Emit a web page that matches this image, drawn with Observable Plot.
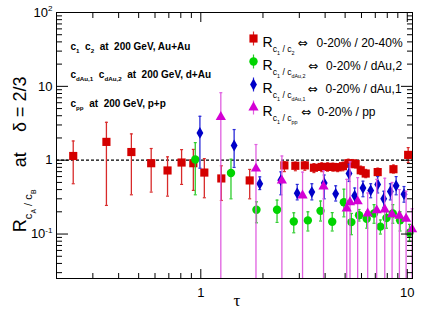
<!DOCTYPE html>
<html><head><meta charset="utf-8">
<script src="https://cdn.jsdelivr.net/npm/d3@7"></script>
<script src="https://cdn.jsdelivr.net/npm/@observablehq/plot@0.6"></script>
<style>
body{margin:0;background:#fff}
svg{font-family:"Liberation Sans",Arial,Helvetica,sans-serif}
</style>
</head><body><div id="chart"></div>
<script>
// ---- data ----
const tauRed = [0.241,0.349,0.461,0.575,0.69,0.807,0.92,1.04,1.257,1.725,2.54,2.87,3.19,3.53,3.85,4.11,4.36,4.6,4.88,5.18,5.44,5.62,5.95,6.29,7.19,8.57,10.1];
const valRed = [1.14,1.77,1.29,0.91,0.726,0.93,0.91,0.68,0.566,0.532,0.85,0.84,0.85,0.79,0.81,0.81,0.81,0.80,0.83,0.91,0.90,0.89,0.73,0.66,0.69,0.755,1.18];
const hiRed  = [1.82,3.26,2.27,1.44,1.11,1.39,1.40,1.05,0.84,0.75,0.95,0.94,0.95,0.90,0.92,0.92,0.91,0.90,0.94,1.03,1.02,1.00,0.83,0.75,0.78,0.86,1.48];
const loRed  = [0.48,0.244,0.34,0.37,0.326,0.47,0.39,0.31,0.285,0.30,0.70,0.72,0.73,0.68,0.70,0.71,0.71,0.70,0.72,0.80,0.79,0.78,0.64,0.58,0.61,0.67,0.93];

const tauGreen = [0.94,1.40,1.86,2.34,2.82,3.30,3.80,4.33,4.93,5.36,5.84,6.36,6.9,7.41,7.93,8.51,9.23,10.25];
const valGreen = [1.02,0.67,0.213,0.213,0.148,0.153,0.206,0.147,0.27,0.145,0.18,0.161,0.19,0.126,0.165,0.19,0.154,0.104];
const hiGreen  = [1.73,1.03,0.273,0.288,0.194,0.20,0.28,0.195,0.405,0.19,0.215,0.20,0.25,0.155,0.21,0.25,0.20,0.135];
const loGreen  = [0.34,0.30,0.142,0.144,0.104,0.11,0.15,0.11,0.171,0.098,0.15,0.12,0.14,0.10,0.12,0.14,0.11,0.08];

const tauBlue = [0.99,1.45,1.93,2.44,2.93,3.45,3.96,4.5,5.22,5.56,6.1,6.65,7.19,7.69,8.28,8.83,9.64];
const valBlue = [2.34,1.58,0.48,0.537,0.358,0.37,0.49,0.35,0.66,0.33,0.42,0.39,0.47,0.30,0.377,0.45,0.347];
const hiBlue  = [3.93,2.6,0.595,0.695,0.47,0.48,0.63,0.45,0.88,0.42,0.52,0.48,0.60,0.38,0.48,0.60,0.44];
const loBlue  = [0.78,0.80,0.40,0.34,0.29,0.29,0.30,0.28,0.515,0.26,0.32,0.31,0.36,0.23,0.29,0.34,0.27];

const tauMag = [1.25,1.85,2.47,3.11,3.93,5.09,5.28,5.75,6.43,7.11,7.78,8.44,9.16,9.87,10.55];
const valMag = [3.85,0.77,0.53,0.333,0.44,0.222,0.27,0.277,0.19,0.209,0.215,0.185,0.177,0.161,0.116];
const hiMag  = [8.2,1.63,1.14,0.69,0.72,0.55,0.95,0.58,0.36,0.55,0.57,0.50,0.40,0.38,0.22];
const loMag  = [0.001,0.001,0.001,0.001,0.001,0.001,0.001,0.001,0.001,0.001,0.001,0.001,0.001,0.001,0.001];

const legendRatios = [
  "R_{c_{1} / c_{2}}",
  "R_{c_{1} / c_{dAu,2}}",
  "R_{c_{1} / c_{dAu,1}}",
  "R_{c_{1} / c_{pp}}"
];
const legendArrow = "\u21D4";
const legendDescs = [
  "0-20% / 20-40%",
  "0-20% / dAu,2",
  "0-20% / dAu,1",
  "0-20% / pp"
];
const infoLabels = [
  "c_{1}  c_{2}  at  200 GeV, Au+Au",
  "c_{dAu,1}  c_{dAu,2}  at  200 GeV, d+Au",
  "c_{pp}  at  200 GeV, p+p"
];
const yTickLabels = {100:"10^{2}", 10:"10", 1:"1", 0.1:"10^{-1}"};
const xTickLabels = {1:"1", 10:"10"};
const yTitleParts = ["R_{c_{A} / c_{B}}", "at", "\u03B4 = 2/3"];
const xTitle = "\u03C4";

// ---- table ----
const mk = (t,v,h,l) => t.map((d,i)=>({t:d, v:v[i], hi:h[i], lo:l[i]}));
const red = mk(tauRed,valRed,hiRed,loRed);
const green = mk(tauGreen,valGreen,hiGreen,loGreen);
const blue = mk(tauBlue,valBlue,hiBlue,loBlue);
const mag = mk(tauMag,valMag,hiMag,loMag);

const yMajor = [0.1,1,10,100];
const yMinor = [];
for (const k of [-2,-1,0,1]) for (let m=2;m<=9;m++){const v=m*Math.pow(10,k); if(v>=0.025&&v<=100) yMinor.push(+v.toPrecision(3));}
const xMajor = [1,10];
const xMinor = [];
for (const k of [-1,0]) for (let m=2;m<=9;m++){const v=m*Math.pow(10,k); if(v>=0.2&&v<=10.6) xMinor.push(+v.toPrecision(3));}

const capSym = {draw(ctx){ctx.moveTo(-1.5,0);ctx.lineTo(1.5,0);}};
const vbarSym = {draw(ctx){ctx.moveTo(0,-7);ctx.lineTo(0,7);}};

const cols = {red:"#d40000", green:"#00d400", blue:"#0000c8", mag:"#d400d4"};
const errCols = {red:"#d82a2a", green:"#2ccc2c", blue:"#2a2ad8", mag:"#e060e0"};

function series(data, key, symbol, r){
  return [
    Plot.ruleX(data, {x:"t", y1:"lo", y2:"hi", stroke:errCols[key], strokeWidth:1.3, clip:true}),
    Plot.dot(data, {x:"t", y:"hi", symbol:capSym, r:2, stroke:errCols[key], strokeWidth:1.2}),
    Plot.dot(data.filter(d=>d.lo>0.025), {x:"t", y:"lo", symbol:capSym, r:2, stroke:errCols[key], strokeWidth:1.2}),
    Plot.dot(data, {x:"t", y:"v", symbol, r, fill:cols[key], stroke:null})
  ];
}

const legendKeys = ["red","green","blue","mag"];
const legendSyms = ["square","circle","diamond","triangle"];
const legendR = [4.6,4.2,3.6,3.8];
const arrowDx = [241, 251.5, 251, 244.5];
const descDx = [260, 269.5, 269, 261];
const legendMarks = [];
legendKeys.forEach((k,i)=>{
  const dy = 26 + 23*i;
  legendMarks.push(Plot.dot([0], {frameAnchor:"top-left", dx:197, dy, symbol:vbarSym, r:2, stroke:errCols[k], strokeWidth:1.2}));
  legendMarks.push(Plot.dot([0], {frameAnchor:"top-left", dx:197, dy, symbol:legendSyms[i], r:legendR[i], fill:cols[k]}));
  legendMarks.push(Plot.text([legendRatios[i]], {frameAnchor:"top-left", dx:206, dy:dy-1, text:d=>d, textAnchor:"start", fontSize:14, fill:"black"}));
  legendMarks.push(Plot.text([legendArrow], {frameAnchor:"top-left", dx:arrowDx[i], dy, text:d=>d, textAnchor:"start", fontSize:12, fontFamily:"DejaVu Sans, sans-serif", fill:"black"}));
  legendMarks.push(Plot.text([legendDescs[i]], {frameAnchor:"top-left", dx:descDx[i], dy, text:d=>d, textAnchor:"start", fontSize:12, fill:"black"}));
});
const infoMarks = infoLabels.map((s,i)=>Plot.text([s], {frameAnchor:"top-left", dx:14, dy:[30,58,87][i], text:d=>d, textAnchor:"start", fontSize:10, fontWeight:"bold", fill:"black"}));
// y-title pieces anchored (start) at the R value where each piece begins
const yTitleAt = [0.106, 0.80, 2.4];
const yTitleMarks = yTitleParts.map((s,i)=>Plot.text([s], {x:()=>0.2, y:()=>yTitleAt[i], dx:-36, rotate:-90, textAnchor:"start", text:d=>d, fontSize:18, fill:"black"}));

const plot = Plot.plot({
  width:436, height:313,
  marginLeft:56, marginRight:24, marginTop:12, marginBottom:35,
  x:{type:"log", domain:[0.2,10.6], axis:null},
  y:{type:"log", domain:[0.025,100], axis:null},
  style:{fontFamily:"Liberation Sans, Arial, sans-serif", fontSize:"12px", background:"white", color:"black"},
  marks:[
    Plot.ruleY([1], {stroke:"black", strokeWidth:1.2, strokeDasharray:"3,2"}),
    ...series(red,"red","square",4.6),
    ...series(green,"green","circle",4.2),
    ...series(blue,"blue","diamond",3.6),
    ...series(mag,"mag","triangle",3.8),
    Plot.axisY(yMajor, {anchor:"left", tickSize:0, tickPadding:4, tickFormat:d=>yTickLabels[d], label:null, fontSize:13}),
    Plot.axisY(yMajor, {anchor:"left", tickSize:-12, fill:"none", label:null}),
    Plot.axisY(yMinor, {anchor:"left", tickSize:-6, fill:"none", label:null}),
    Plot.axisY(yMajor, {anchor:"right", tickSize:-12, fill:"none", label:null}),
    Plot.axisY(yMinor, {anchor:"right", tickSize:-6, fill:"none", label:null}),
    Plot.axisX(xMajor, {anchor:"bottom", tickSize:0, tickPadding:9, tickFormat:d=>xTickLabels[d], label:null, fontSize:13}),
    Plot.axisX(xMajor, {anchor:"bottom", tickSize:-9, fill:"none", label:null}),
    Plot.axisX(xMinor, {anchor:"bottom", tickSize:-5, fill:"none", label:null}),
    Plot.axisX(xMajor, {anchor:"top", tickSize:-9, fill:"none", label:null}),
    Plot.axisX(xMinor, {anchor:"top", tickSize:-5, fill:"none", label:null}),
    Plot.frame({stroke:"black", strokeWidth:1}),
    ...yTitleMarks,
    Plot.text([xTitle], {frameAnchor:"bottom-left", dx:177, dy:27, text:d=>d, fontSize:17, fontFamily:"Liberation Serif, serif", fill:"black"}),
    ...infoMarks,
    ...legendMarks
  ]
});
document.getElementById("chart").appendChild(plot);

// ---- render simple sub/superscript markup as tspans ----
function parseMarkup(str, size, offset, out){
  let buf = "";
  let i = 0;
  const flush = ()=>{ if(buf){ out.push({text:buf, size, offset}); buf=""; } };
  while(i < str.length){
    const c = str[i];
    if((c==="_"||c==="^") && str[i+1]==="{"){
      flush();
      let depth=0, j=i+1;
      for(; j<str.length; j++){ if(str[j]==="{") depth++; else if(str[j]==="}"){ depth--; if(depth===0) break; } }
      const inner = str.slice(i+2, j);
      const ns = size*0.62;
      const no = c==="_" ? offset + size*0.32 : offset - size*0.42;
      parseMarkup(inner, ns, no, out);
      i = j+1;
    } else { buf += c; i++; }
  }
  flush();
  return out;
}
plot.querySelectorAll("text").forEach(el=>{
  const s = el.textContent;
  el.style.whiteSpace = "pre";
  if(!/[_^]\{/.test(s)) return;
  const base = parseFloat(getComputedStyle(el).fontSize) || 12;
  const segs = parseMarkup(s, base, 0, []);
  while(el.firstChild) el.removeChild(el.firstChild);
  let cur = 0;
  const ns = "http://www.w3.org/2000/svg";
  segs.forEach(sg=>{
    const t = document.createElementNS(ns, "tspan");
    t.setAttribute("font-size", sg.size.toFixed(2));
    const d = sg.offset - cur;
    if(Math.abs(d)>1e-6) t.setAttribute("dy", d.toFixed(2));
    cur = sg.offset;
    t.textContent = sg.text;
    el.appendChild(t);
  });
});
</script></body></html>
